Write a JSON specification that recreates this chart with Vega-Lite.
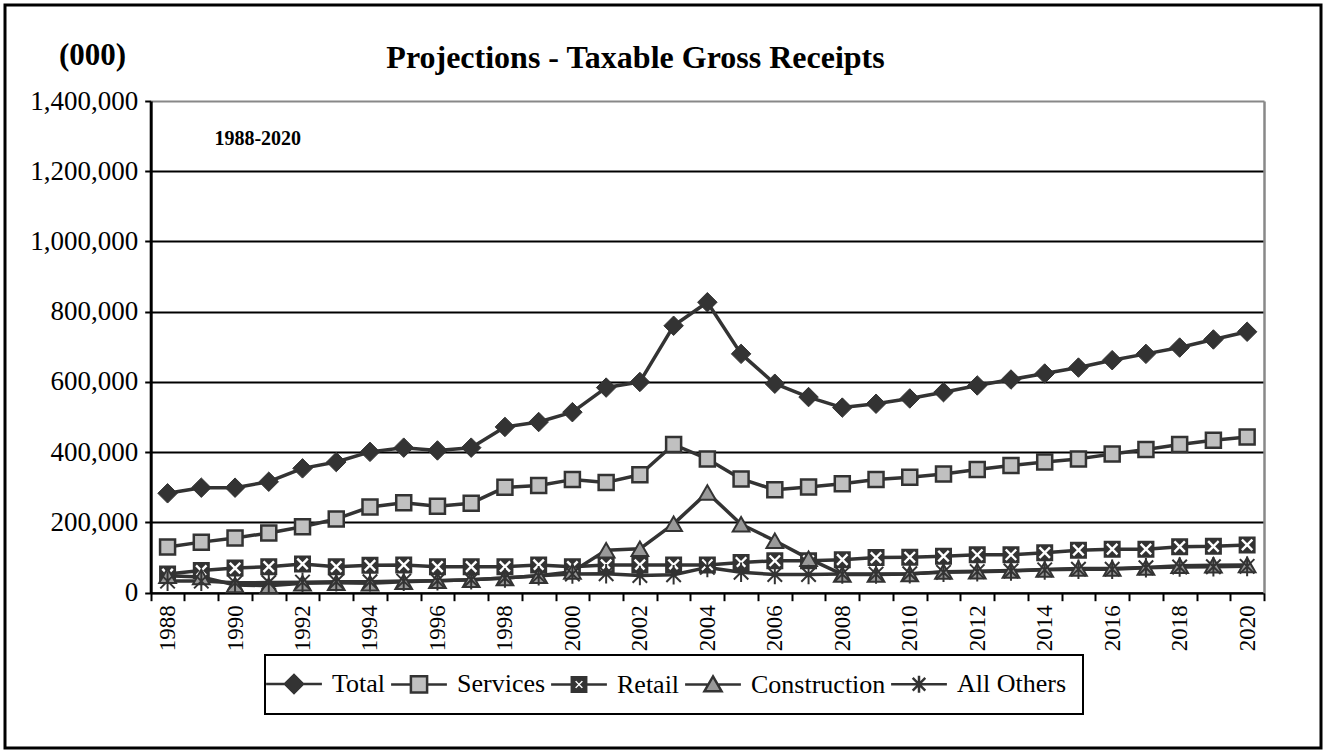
{
  "$schema": "https://vega.github.io/schema/vega-lite/v6.json",
  "autosize": "none",
  "width": 1316,
  "height": 743,
  "padding": {"left": 5, "top": 5, "right": 5, "bottom": 5},
  "background": "white",
  "title": {
    "text": "Projections - Taxable Gross Receipts",
    "anchor": "middle",
    "frame": "group",
    "dx": -27.5,
    "offset": -95,
    "baseline": "alphabetic",
    "font": "Liberation Serif",
    "fontSize": 32,
    "fontWeight": "bold",
    "color": "black"
  },
  "data": {
    "values": [
      {"year": 1988, "Total": 283000, "Services": 130000, "Retail": 53000, "Construction": 48000, "All Others": 33000},
      {"year": 1989, "Total": 299000, "Services": 144000, "Retail": 63000, "Construction": 45000, "All Others": 33000},
      {"year": 1990, "Total": 299000, "Services": 156000, "Retail": 70000, "Construction": 22000, "All Others": 28000},
      {"year": 1991, "Total": 316000, "Services": 170000, "Retail": 74000, "Construction": 20000, "All Others": 29000},
      {"year": 1992, "Total": 354000, "Services": 188000, "Retail": 82000, "Construction": 27000, "All Others": 30000},
      {"year": 1993, "Total": 372000, "Services": 210000, "Retail": 74000, "Construction": 28000, "All Others": 31000},
      {"year": 1994, "Total": 401000, "Services": 244000, "Retail": 78000, "Construction": 27000, "All Others": 31000},
      {"year": 1995, "Total": 413000, "Services": 256000, "Retail": 79000, "Construction": 31000, "All Others": 33000},
      {"year": 1996, "Total": 405000, "Services": 246000, "Retail": 74000, "Construction": 34000, "All Others": 34000},
      {"year": 1997, "Total": 413000, "Services": 255000, "Retail": 74000, "Construction": 37000, "All Others": 37000},
      {"year": 1998, "Total": 472000, "Services": 300000, "Retail": 74000, "Construction": 42000, "All Others": 42000},
      {"year": 1999, "Total": 486000, "Services": 305000, "Retail": 79000, "Construction": 48000, "All Others": 48000},
      {"year": 2000, "Total": 514000, "Services": 322000, "Retail": 74000, "Construction": 60000, "All Others": 53000},
      {"year": 2001, "Total": 584000, "Services": 314000, "Retail": 79000, "Construction": 121000, "All Others": 54000},
      {"year": 2002, "Total": 600000, "Services": 336000, "Retail": 79000, "Construction": 125000, "All Others": 49000},
      {"year": 2003, "Total": 760000, "Services": 422000, "Retail": 79000, "Construction": 196000, "All Others": 51000},
      {"year": 2004, "Total": 827000, "Services": 381000, "Retail": 79000, "Construction": 285000, "All Others": 72000},
      {"year": 2005, "Total": 680000, "Services": 324000, "Retail": 86000, "Construction": 195000, "All Others": 58000},
      {"year": 2006, "Total": 595000, "Services": 293000, "Retail": 91000, "Construction": 148000, "All Others": 52000},
      {"year": 2007, "Total": 557000, "Services": 301000, "Retail": 91000, "Construction": 97000, "All Others": 52000},
      {"year": 2008, "Total": 527000, "Services": 310000, "Retail": 94000, "Construction": 52000, "All Others": 53000},
      {"year": 2009, "Total": 538000, "Services": 322000, "Retail": 100000, "Construction": 52000, "All Others": 53000},
      {"year": 2010, "Total": 553000, "Services": 329000, "Retail": 101000, "Construction": 53000, "All Others": 54000},
      {"year": 2011, "Total": 571000, "Services": 338000, "Retail": 104000, "Construction": 60000, "All Others": 58000},
      {"year": 2012, "Total": 590000, "Services": 351000, "Retail": 108000, "Construction": 61000, "All Others": 60000},
      {"year": 2013, "Total": 607000, "Services": 362000, "Retail": 108000, "Construction": 63000, "All Others": 62000},
      {"year": 2014, "Total": 624000, "Services": 372000, "Retail": 114000, "Construction": 66000, "All Others": 65000},
      {"year": 2015, "Total": 641000, "Services": 381000, "Retail": 121000, "Construction": 69000, "All Others": 67000},
      {"year": 2016, "Total": 662000, "Services": 395000, "Retail": 124000, "Construction": 69000, "All Others": 67000},
      {"year": 2017, "Total": 680000, "Services": 408000, "Retail": 124000, "Construction": 72000, "All Others": 71000},
      {"year": 2018, "Total": 698000, "Services": 422000, "Retail": 131000, "Construction": 77000, "All Others": 73000},
      {"year": 2019, "Total": 721000, "Services": 434000, "Retail": 132000, "Construction": 78000, "All Others": 74000},
      {"year": 2020, "Total": 743000, "Services": 443000, "Retail": 136000, "Construction": 79000, "All Others": 75000}
    ]
  },
  "transform": [
    {"fold": ["Total", "Services", "Retail", "Construction", "All Others"], "as": ["series", "value"]}
  ],
  "encoding": {
    "x": {
      "field": "year",
      "type": "ordinal",
      "scale": {"type": "band", "range": [145.7, 1259], "paddingInner": 0, "paddingOuter": 0}
    },
    "y": {
      "field": "value",
      "type": "quantitative",
      "scale": {"domain": [0, 1400000], "range": [587.7, 96], "nice": false}
    }
  },
  "layer": [
    {
      "mark": {"type": "line", "strokeWidth": 3.5, "strokeJoin": "round"},
      "encoding": {
        "x": {
          "field": "year",
          "type": "ordinal",
          "axis": {
            "title": null,
            "offset": -155.3,
            "tickBand": "extent",
            "labelExpr": "datum.value % 2 === 0 ? datum.label : ''",
            "labelAngle": -90,
            "labelFont": "Liberation Serif",
            "labelFontSize": 23,
            "labelColor": "black",
            "labelPadding": 4,
            "domainColor": "black",
            "domainWidth": 2,
            "tickColor": "black",
            "tickWidth": 2,
            "tickSize": 8,
            "grid": false
          }
        },
        "y": {
          "field": "value",
          "type": "quantitative",
          "axis": {
            "orient": "left",
            "offset": -145.7,
            "values": [0, 200000, 400000, 600000, 800000, 1000000, 1200000, 1400000],
            "format": ",d",
            "labelFont": "Liberation Serif",
            "labelFontSize": 27,
            "labelColor": "black",
            "labelPadding": 7,
            "domainColor": "black",
            "domainWidth": 3,
            "tickColor": "black",
            "tickWidth": 2,
            "tickSize": 6,
            "grid": true,
            "gridColor": {"condition": {"test": "datum.value === 1400000", "value": "#888888"}, "value": "black"},
            "gridWidth": 2,
            "title": "(000)",
            "titleAngle": 0,
            "titleFont": "Liberation Serif",
            "titleFontSize": 31,
            "titleFontWeight": "bold",
            "titleColor": "black",
            "titleX": -58.7,
            "titleY": 50.5,
            "titleAlign": "center",
            "titleBaseline": "middle"
          }
        },
        "stroke": {
          "field": "series",
          "type": "nominal",
          "scale": {
            "domain": ["Total", "Services", "Retail", "Construction", "All Others"],
            "range": ["#333333", "#333333", "#333333", "#333333", "#333333"]
          },
          "legend": {
            "orient": "none",
            "legendX": 260,
            "legendY": 650,
            "direction": "horizontal",
            "columns": 5,
            "title": null,
            "padding": 16,
            "strokeColor": "black",
            "labelFont": "Liberation Serif",
            "labelFontSize": 26,
            "labelColor": "black",
            "labelOffset": 25,
            "columnPadding": 0,
            "symbolSize": 324,
            "encode": {
              "legend": {"update": {"strokeWidth": {"value": 2}}},
              "symbols": {
                "update": {
                  "shape": {"signal": "datum.value === 'Total' ? 'M-3.1,0H-1M1,0H3.1M-1,0L0,-1L1,0L0,1Z' : datum.value === 'Services' ? 'M-3.1,0H-0.9M0.9,0H3.1M-0.9,-0.9H0.9V0.9H-0.9Z' : datum.value === 'Retail' ? 'M-3.1,0H-0.8M0.8,0H3.1M-0.8,-0.8H0.8V0.8H-0.8ZM0,-0.3L-0.32,-0.62L-0.62,-0.32L-0.3,0L-0.62,0.32L-0.32,0.62L0,0.3L0.32,0.62L0.62,0.32L0.3,0L0.62,-0.32L0.32,-0.62Z' : datum.value === 'Construction' ? 'M-3.1,0H-0.52M0.52,0H3.1M0,-0.9L0.95,0.75H-0.95Z' : 'M-3.1,0H3.1M-0.7,-0.7L0.7,0.7M-0.7,0.7L0.7,-0.7M0,-0.95V0.95'"},
                  "fill": {"signal": "datum.value === 'Total' ? '#333333' : datum.value === 'Services' ? '#c0c0c0' : datum.value === 'Retail' ? '#333333' : datum.value === 'Construction' ? '#999999' : 'transparent'"},
                  "stroke": {"value": "#333333"},
                  "strokeWidth": {"value": 2.5},
                  "size": {"value": 324},
                  "opacity": {"value": 1},
                  "fillOpacity": {"value": 1},
                  "strokeOpacity": {"value": 1}
                }
              }
            }
          }
        }
      }
    },
    {
      "transform": [{"filter": "datum.series === 'Total'"}],
      "mark": {"type": "point", "shape": "diamond", "size": 380, "filled": true, "fill": "#333333", "stroke": "#333333", "strokeWidth": 1, "opacity": 1},
      "encoding": {
        "y": {
          "field": "value",
          "type": "quantitative",
          "axis": {"orient": "right", "offset": -57, "labels": false, "ticks": false, "grid": false, "title": null, "domainColor": "#888888", "domainWidth": 2.5}
        }
      }
    },
    {
      "transform": [{"filter": "datum.series === 'Services'"}],
      "mark": {"type": "point", "shape": "square", "size": 225, "filled": true, "fill": "#c0c0c0", "stroke": "#333333", "strokeWidth": 2.5, "opacity": 1},
      "encoding": {"y": {"field": "value", "type": "quantitative", "axis": null}}
    },
    {
      "transform": [{"filter": "datum.series === 'Retail'"}],
      "mark": {"type": "point", "shape": "square", "size": 225, "filled": true, "fill": "#333333", "stroke": "#333333", "strokeWidth": 2, "opacity": 1},
      "encoding": {"y": {"field": "value", "type": "quantitative", "axis": null}}
    },
    {
      "transform": [{"filter": "datum.series === 'Retail'"}],
      "mark": {"type": "point", "shape": "M-1,-1L1,1M-1,1L1,-1", "size": 110, "filled": false, "stroke": "white", "strokeWidth": 2.4, "opacity": 1},
      "encoding": {"y": {"field": "value", "type": "quantitative", "axis": null}}
    },
    {
      "transform": [{"filter": "datum.series === 'Construction'"}],
      "mark": {"type": "point", "shape": "triangle-up", "size": 280, "filled": true, "fill": "#999999", "stroke": "#333333", "strokeWidth": 2, "opacity": 1},
      "encoding": {"y": {"field": "value", "type": "quantitative", "axis": null}}
    },
    {
      "transform": [{"filter": "datum.series === 'All Others'"}],
      "mark": {"type": "point", "shape": "M-1,-1L1,1M-1,1L1,-1M0,-1.35L0,1.35", "size": 210, "filled": false, "stroke": "#333333", "strokeWidth": 2, "opacity": 1},
      "encoding": {"y": {"field": "value", "type": "quantitative", "axis": null}}
    },
    {
      "transform": [{"filter": "datum.year === 1988 && datum.series === 'Total'"}],
      "mark": {"type": "text", "font": "Liberation Serif", "fontSize": 20, "fontWeight": "bold", "color": "black", "dx": -11},
      "encoding": {
        "x": {"datum": 1991, "type": "ordinal"},
        "y": {"datum": 1292000, "type": "quantitative", "axis": null},
        "text": {"value": "1988-2020"}
      }
    }
  ],
  "resolve": {"axis": {"y": "independent"}},
  "config": {
    "view": {"stroke": "black", "strokeWidth": 3, "fill": "white"},
    "font": "Liberation Serif"
  }
}
